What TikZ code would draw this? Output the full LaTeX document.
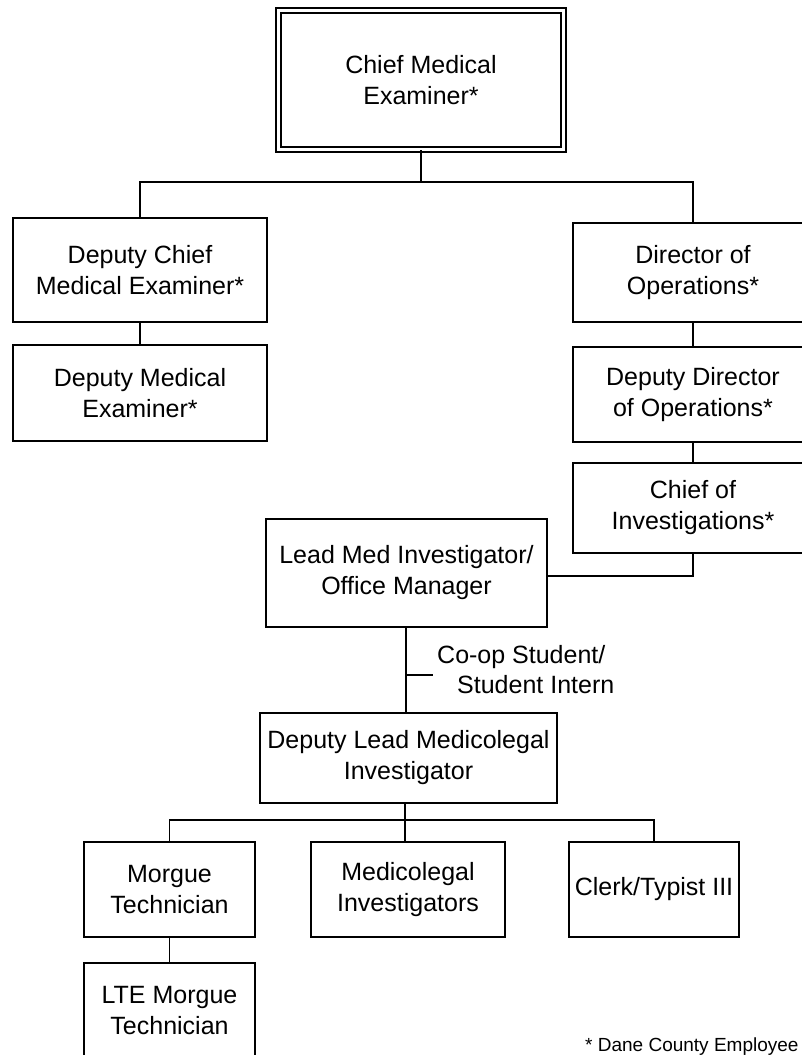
\documentclass[tikz,border=0pt]{standalone}
\usepackage{fontspec}
\setmainfont{Liberation Sans}
\begin{document}
\begin{tikzpicture}[x=1pt,y=-1pt,
  box/.style={draw, line width=1.6pt, align=center, inner sep=2pt,
    font=\fontsize{25}{31}\selectfont},
  link/.style={line width=1.6pt},
  lbl/.style={inner sep=0pt, anchor=base west, font=\fontsize{25}{31}\selectfont}]
\useasboundingbox (0,0) rectangle (802,1055);
\clip (0,0) rectangle (802,1055);
% nodes
\node[box, double, double distance=3.5pt, line width=1.5pt,
      minimum width=285, minimum height=139] (chief) at (421,80) {Chief Medical\\Examiner*};
\node[box, minimum width=254, minimum height=104] (dcme) at (140,270) {Deputy Chief\\Medical Examiner*};
\node[box, minimum width=254, minimum height=96] (dme) at (140,393) {Deputy Medical\\Examiner*};
\node[box, minimum width=240, minimum height=99] (dir) at (693,272.5) {Director of\\Operations*};
\node[box, minimum width=240, minimum height=95] (ddir) at (693,394.5) {Deputy Director\\of Operations*};
\node[box, minimum width=240, minimum height=90] (coi) at (693,508) {Chief of\\Investigations*};
\node[box, minimum width=281, minimum height=108] (lead) at (406.5,573) {Lead Med Investigator/\\Office Manager};
\node[box, minimum width=297, minimum height=90] (dlead) at (408.5,758) {Deputy Lead Medicolegal\\Investigator};
\node[box, minimum width=171, minimum height=95] (morgue) at (169.5,889.5) {Morgue\\Technician};
\node[box, minimum width=194, minimum height=95] (medico) at (408,889.5) {Medicolegal\\Investigators};
\node[box, minimum width=170, minimum height=95] (clerk) at (654,889.5) {Clerk/Typist III};
\node[box, minimum width=171, minimum height=95] (lte) at (169.5,1010.5) {LTE Morgue\\Technician};
\node[lbl] (coop1) at (437,663) {Co-op Student/};
\node[lbl] (coop2) at (457,693) {Student Intern};
\node[lbl, font=\fontsize{19}{23}\selectfont] (note) at (585,1051) {* Dane County Employee};
% connectors
\coordinate (bus1) at (421,182);
\draw[link] (chief.south) -- (bus1);
\draw[link] (dcme.north) |- (bus1) -| (dir.north);
\draw[link] (dcme.south) -- (dme.north);
\draw[link] (dir.south) -- (ddir.north);
\draw[link] (ddir.south) -- (coi.north);
\draw[link] (coi.south) |- (lead.east |- 0,576);
\coordinate (tick) at (406,675);
\draw[link] (406,627) -- (406,713);
\draw[link] (tick) -- (433,675);
\coordinate (bus2) at (405,820);
\draw[link] (dlead.south -| bus2) -- (bus2);
\draw[link] (morgue.north) |- (bus2) -| (clerk.north);
\draw[link] (bus2) -- (medico.north -| bus2);
\draw[link] (morgue.south) -- (lte.north);
\end{tikzpicture}
\end{document}
